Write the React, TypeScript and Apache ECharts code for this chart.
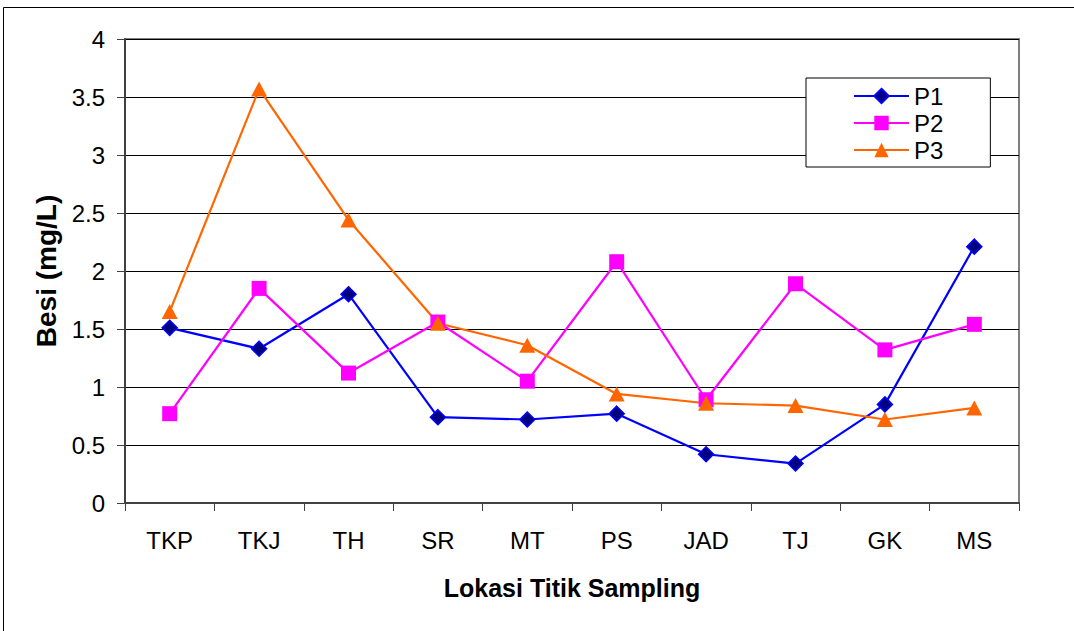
import React, { useEffect, useRef } from "react";
import * as echarts from "echarts";

// Sampling locations along the x axis
const categories = ["TKP", "TKJ", "TH", "SR", "MT", "PS", "JAD", "TJ", "GK", "MS"];

// Iron (Besi) concentration, mg/L, per sampling period
const p1 = [1.51, 1.33, 1.8, 0.74, 0.72, 0.77, 0.42, 0.34, 0.85, 2.21];
const p2 = [0.77, 1.85, 1.12, 1.56, 1.05, 2.08, 0.89, 1.89, 1.32, 1.54];
const p3 = [1.65, 3.57, 2.44, 1.55, 1.36, 0.94, 0.86, 0.84, 0.72, 0.82];

const seriesNames = ["P1", "P2", "P3"];

const FONT = '"Liberation Sans", Arial, sans-serif';

export default function App() {
  const ref = useRef<HTMLDivElement>(null);

  useEffect(() => {
    if (!ref.current) return;
    const chart = echarts.init(ref.current, undefined, { renderer: "svg" });

    chart.setOption({
      animation: false,
      backgroundColor: "#ffffff",
      textStyle: { fontFamily: FONT, color: "#000" },
      graphic: [
        {
          type: "rect",
          silent: true,
          z: -10,
          shape: { x: 3.5, y: 7.5, width: 1200, height: 800 },
          style: { fill: "none", stroke: "#000", lineWidth: 1 },
        },
      ],
      grid: {
        left: 125,
        right: 55,
        top: 39,
        bottom: 128,
        show: true,
        borderColor: "#808080",
        borderWidth: 2,
        backgroundColor: "transparent",
      },
      legend: {
        orient: "vertical",
        left: 806,
        top: 78,
        data: seriesNames,
        backgroundColor: "#fff",
        borderColor: "#000",
        borderWidth: 1,
        padding: [6, 47, 5, 47],
        itemGap: 3,
        itemWidth: 55,
        itemHeight: 18,
        textStyle: { fontFamily: FONT, fontSize: 24, color: "#000" },
      },
      xAxis: {
        type: "category",
        data: categories,
        boundaryGap: true,
        name: "Lokasi Titik Sampling",
        nameLocation: "middle",
        nameGap: 72,
        nameTextStyle: { fontFamily: FONT, fontSize: 25, fontWeight: "bold", color: "#000" },
        axisLine: { show: true, lineStyle: { color: "#404040", width: 2 } },
        axisTick: { show: true, alignWithLabel: false, length: 8, lineStyle: { color: "#404040", width: 1 } },
        axisLabel: { margin: 25, fontFamily: FONT, fontSize: 24, color: "#000" },
        splitLine: { show: false },
      },
      yAxis: {
        type: "value",
        min: 0,
        max: 4,
        interval: 0.5,
        name: "Besi (mg/L)",
        nameLocation: "middle",
        nameGap: 59,
        nameRotate: 90,
        nameTextStyle: { fontFamily: FONT, fontSize: 28, fontWeight: "bold", color: "#000" },
        axisLine: { show: true, lineStyle: { color: "#404040", width: 2 } },
        axisTick: { show: true, length: 8, lineStyle: { color: "#404040", width: 1 } },
        axisLabel: { margin: 20, fontFamily: FONT, fontSize: 24, color: "#000" },
        splitLine: { show: true, lineStyle: { color: "#000", width: 1 } },
      },
      series: [
        {
          name: "P1",
          type: "line",
          data: p1,
          symbol: "diamond",
          symbolSize: 15,
          lineStyle: { color: "#0000FF", width: 2.2 },
          itemStyle: { color: "#000080", borderColor: "#0000FF", borderWidth: 1.5 },
        },
        {
          name: "P2",
          type: "line",
          data: p2,
          symbol: "rect",
          symbolSize: 15,
          lineStyle: { color: "#FF00FF", width: 2.2 },
          itemStyle: { color: "#FF00FF", borderColor: "#FF00FF", borderWidth: 0 },
        },
        {
          name: "P3",
          type: "line",
          data: p3,
          symbol: "triangle",
          symbolSize: [16, 15],
          lineStyle: { color: "#FF6600", width: 2.2 },
          itemStyle: { color: "#FF6600", borderColor: "#FF6600", borderWidth: 0 },
        },
      ],
    });

    return () => chart.dispose();
  }, []);

  return (
    <div
      ref={ref}
      style={{ position: "fixed", left: 0, top: 0, width: 1074, height: 631 }}
    />
  );
}
